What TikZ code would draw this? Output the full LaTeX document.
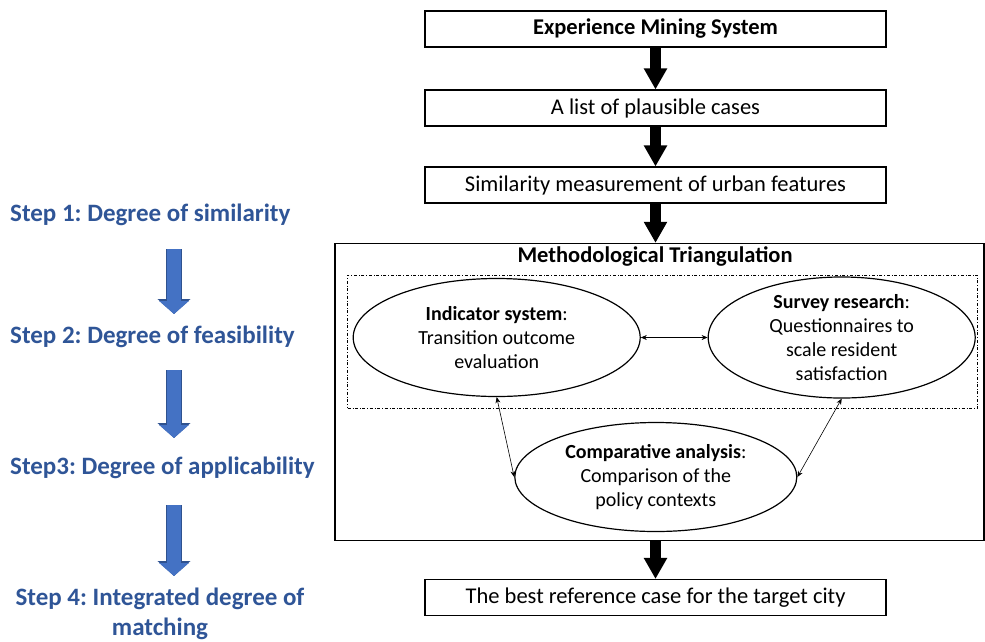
\documentclass[tikz,border=0pt]{standalone}
\usepackage{fontspec}
\setmainfont{Carlito}
\usepackage{xcolor}
\usepackage{tikz}
\usetikzlibrary{arrows.meta,shapes.geometric}
\frenchspacing

\definecolor{stepblue}{RGB}{47,85,151}
\definecolor{stepfill}{RGB}{68,114,196}
\definecolor{stepline}{RGB}{47,82,143}

\begin{document}
\begin{tikzpicture}[x=1pt,y=-1pt,
box/.style={draw,line width=1.1pt,minimum width=461pt,minimum height=36pt,inner sep=0pt,font=\fontsize{22.5}{27}\selectfont},
oval/.style={draw,ellipse,line width=1.2pt,inner sep=0pt,align=center,font=\fontsize{20}{23.8}\selectfont},
flow/.style={line width=10.5pt,-{Triangle[length=21pt,width=22pt]}},
link/.style={line width=0.6pt,{Stealth[length=6pt,width=5pt]}-{Stealth[length=6pt,width=5pt]}},
stephead/.style={anchor=west,inner sep=0pt,text=stepblue,font=\fontsize{25}{30}\selectfont\bfseries},
stepflow/.style={line width=14pt,draw=stepfill,-{Triangle[length=13pt,width=29pt]},
  preaction={draw=stepline,line width=15.6pt,-{Triangle[length=14.8pt,width=31.8pt]}}}
]
\useasboundingbox (0,0) rectangle (985,641);

% main column
\node[box,font=\fontsize{22.5}{27}\selectfont\bfseries] (ems) at (655.5,29) {Experience Mining System};
\node[box] (list) at (655.5,108) {A list of plausible cases};
\node[box] (sim) at (655.5,185) {Similarity measurement of urban features};
\node[draw,line width=1.3pt,minimum width=649pt,minimum height=297pt,inner sep=0pt] (tri) at (659.5,392) {};
\node[font=\fontsize{22.5}{27}\selectfont\bfseries] (ttl) at (655,256) {Methodological Triangulation};
\node[draw,dash dot,line width=0.9pt,minimum width=630pt,minimum height=133pt,inner sep=0pt] (inner) at (662.5,341.7) {};
\node[box] (best) at (655.5,597.5) {The best reference case for the target city};

% triangulation
\node[oval,minimum width=287pt,minimum height=118pt] (ind) at (496.7,337.5) {\textbf{Indicator system}:\\Transition outcome\\evaluation};
\node[oval,minimum width=267pt,minimum height=118pt] (sur) at (841.7,337.5) {\textbf{Survey research}:\\Questionnaires to\\scale resident\\satisfaction};
\node[oval,minimum width=282pt,minimum height=109pt] (com) at (655.8,477) {\textbf{Comparative analysis}:\\Comparison of the\\policy contexts};

\draw[link] (ind.east) -- (sur.west);
\draw[link] (ind.south) -- (com.west);
\draw[link] (sur.south) -- (com.east);

\draw[flow] (ems.south) -- (list.north);
\draw[flow] (list.south) -- (sim.north);
\draw[flow] (sim.south) -- (sim.south |- tri.north);
\draw[flow] (best.north |- tri.south) -- (best.north);

% steps
\coordinate (ax) at (174,0);
\node[stephead] (s1) at (10,215) {Step 1: Degree of similarity};
\node[stephead] (s2) at (10,337) {Step 2: Degree of feasibility};
\node[stephead] (s3) at (10,468) {Step3: Degree of applicability};
\node[stephead,anchor=center,align=center] (s4) at (160,614) {Step 4: Integrated degree of\\matching};

\draw[stepflow,shorten <=34pt,shorten >=23pt] (s1.center -| ax) -- (s2.center -| ax);
\draw[stepflow,shorten <=33pt,shorten >=30pt] (s2.center -| ax) -- (s3.center -| ax);
\draw[stepflow,shorten <=37pt,shorten >=38pt] (s3.center -| ax) -- (s4.center -| ax);
\end{tikzpicture}
\end{document}
